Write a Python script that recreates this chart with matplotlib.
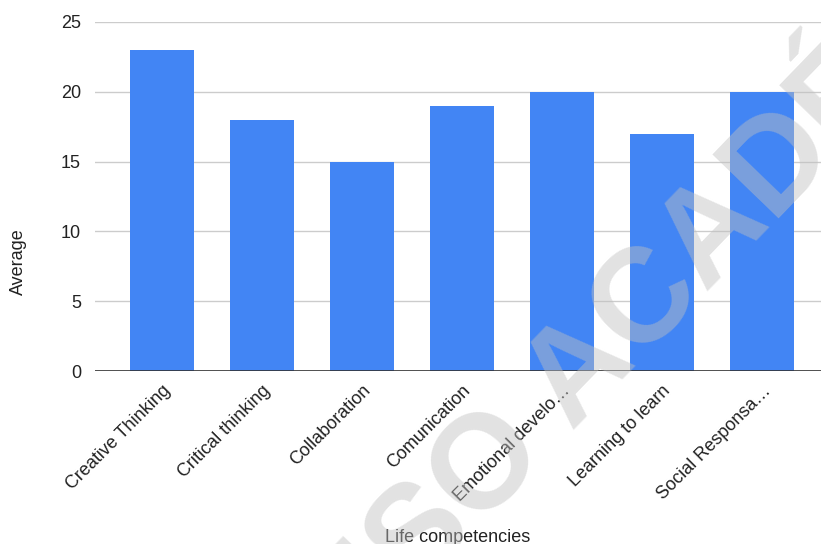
import matplotlib
matplotlib.use("Agg")
import matplotlib.pyplot as plt

# data
categories = [
    "Creative Thinking",
    "Critical thinking",
    "Collaboration",
    "Comunication",
    "Emotional develo…",
    "Learning to learn",
    "Social Responsa…",
]
averages = [23, 18, 15, 19, 20, 17, 20]
y_ticks = [0, 5, 10, 15, 20, 25]

plt.rcParams["font.family"] = ["Liberation Sans", "DejaVu Sans"]

fig = plt.figure(figsize=(8.21, 5.44), dpi=100)
ax = fig.add_axes([95 / 821, 1 - 371 / 544, 1 - 95 / 821, (371 - 22) / 544])

x = range(len(categories))
ax.bar(x, averages, width=0.64, color="#4285F4", zorder=2)

ax.set_xlim(-0.67, 6.59)
ax.set_ylim(0, 25)
ax.set_yticks(y_ticks)
ax.grid(axis="y", color="#cccccc", linewidth=1, zorder=0)
ax.axhline(0, color="#333333", linewidth=1.2, zorder=3)

for side in ("top", "right", "left", "bottom"):
    ax.spines[side].set_visible(False)

ax.set_xticks(list(x))
ax.set_xticklabels(categories, rotation=45, ha="right", rotation_mode="anchor")
ax.tick_params(axis="both", length=0, labelsize=13, colors="#222222")
ax.tick_params(axis="x", pad=8)
ax.tick_params(axis="y", pad=10)

fig.text(18 / 821, 1 - 262 / 544, "Average", fontsize=13, color="#222222",
         rotation=90, ha="center", va="center")
fig.text(458 / 821, 1 - 537 / 544, "Life competencies", fontsize=13,
         color="#222222", ha="center", va="center")

# watermark
fig.text(722 / 821, 1 - 228 / 544, "USO ACADÉMICO", fontsize=96,
         fontweight="bold", color="#c0c0c0", alpha=0.45, rotation=46,
         ha="center", va="center", rotation_mode="anchor", zorder=10)

fig.savefig("out.png", dpi=100)
